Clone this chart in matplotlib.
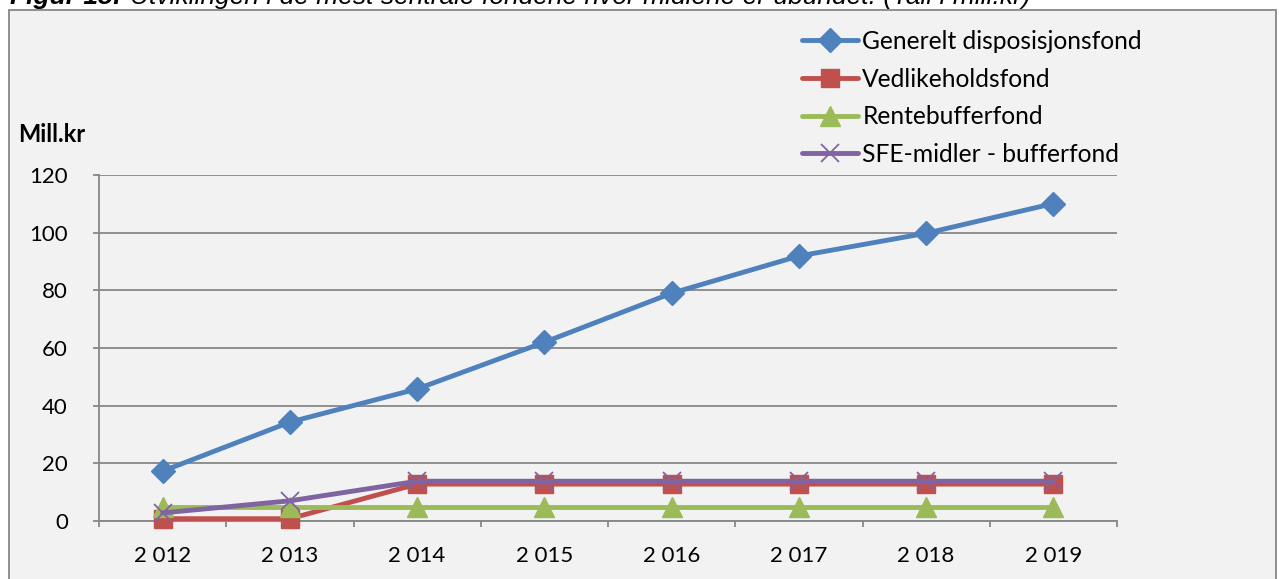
import matplotlib
matplotlib.use("Agg")
import matplotlib.pyplot as plt
from matplotlib.patches import Rectangle

plt.rcParams['font.family'] = ['Lato', 'DejaVu Sans']

# data (mill. kr)
years = ['2 012', '2 013', '2 014', '2 015', '2 016', '2 017', '2 018', '2 019']
generelt = [17.3, 34.3, 45.8, 62.0, 79.0, 91.9, 99.8, 110.1]
vedlikehold = [0.8, 0.8, 12.8, 12.8, 12.8, 12.8, 12.8, 12.8]
rentebuffer = [5.0, 5.0, 5.0, 5.0, 5.0, 5.0, 5.0, 5.0]
sfe_midler = [2.8, 7.0, 13.8, 13.8, 13.8, 13.8, 13.8, 13.8]
yticks = [0, 20, 40, 60, 80, 100, 120]

series = [
    ('Generelt disposisjonsfond', generelt, '#4F81BD', 'D', 12),
    ('Vedlikeholdsfond', vedlikehold, '#C0504D', 's', 13),
    ('Rentebufferfond', rentebuffer, '#9BBB59', '^', 14),
    ('SFE-midler - bufferfond', sfe_midler, '#8064A2', 'x', 13),
]

W, H = 1279, 579
fig = plt.figure(figsize=(W / 100, H / 100), dpi=100)
fig.patch.set_facecolor('white')

# chart frame (grey panel with border)
fig.patches.append(Rectangle((9 / W, -0.05), (1276 - 9) / W, 1.05 - 10 / H,
                             transform=fig.transFigure, facecolor='#F2F2F2',
                             edgecolor='#878787', linewidth=1.3, zorder=-10))

# cut-off caption at the top
fig.text(10 / W, 1 - 4 / H, 'Figur 15:', fontsize=19, fontweight='bold', style='italic',
         family='Liberation Sans', va='baseline', ha='left')
fig.text(130 / W, 1 - 4 / H,
         'Utviklingen i de mest sentrale fondene hvor midlene er ubundet. (Tall i mill.kr)',
         fontsize=19, style='italic', family='Liberation Sans', va='baseline', ha='left')

ax = fig.add_axes([99 / W, 1 - 521 / H, (1117 - 99) / W, (521 - 175) / H])
ax.set_facecolor('none')

x = list(range(len(years)))
for name, vals, col, mk, ms in series:
    if mk == 'x':
        ax.plot(x, vals, color=col, lw=3.5, marker=mk, ms=ms, mew=1.3,
                label=name, solid_capstyle='round', clip_on=False, zorder=3)
    else:
        ax.plot(x, vals, color=col, lw=3.5, marker=mk, ms=ms, mec=col,
                label=name, solid_capstyle='round', clip_on=False, zorder=3)

ax.set_xlim(-0.5, len(years) - 0.5)
ax.set_ylim(0, 120)
ax.set_yticks(yticks)
ax.set_yticklabels([str(v) for v in yticks])
ax.yaxis.grid(True, color='#878787', lw=1.3)
ax.set_axisbelow(True)

# category boundaries as major ticks, labels at centres
ax.set_xticks([i - 0.5 for i in range(len(years) + 1)])
ax.set_xticklabels([''] * (len(years) + 1))
ax.set_xticks(x, minor=True)
ax.set_xticklabels(years, minor=True)
ax.tick_params(axis='x', which='major', length=4.5, width=1.3, color='#878787', direction='out')
ax.tick_params(axis='x', which='minor', length=0, pad=18, labelsize=16)
ax.tick_params(axis='y', length=4.5, width=1.3, color='#878787', pad=18, labelsize=16)

for s in ['top', 'right']:
    ax.spines[s].set_visible(False)
for s in ['left', 'bottom']:
    ax.spines[s].set_color('#878787')
    ax.spines[s].set_linewidth(1.3)

fig.text(18 / W, 1 - 135 / H, 'Mill.kr', fontsize=17, fontweight='bold', va='center', ha='left')

fig.legend(loc='upper left', bbox_to_anchor=(792 / W, 1 - 20 / H), frameon=False,
           fontsize=17.7, handlelength=2.3, handletextpad=0.16, labelspacing=0.6,
           borderaxespad=0)

fig.savefig('out.png', dpi=100)
